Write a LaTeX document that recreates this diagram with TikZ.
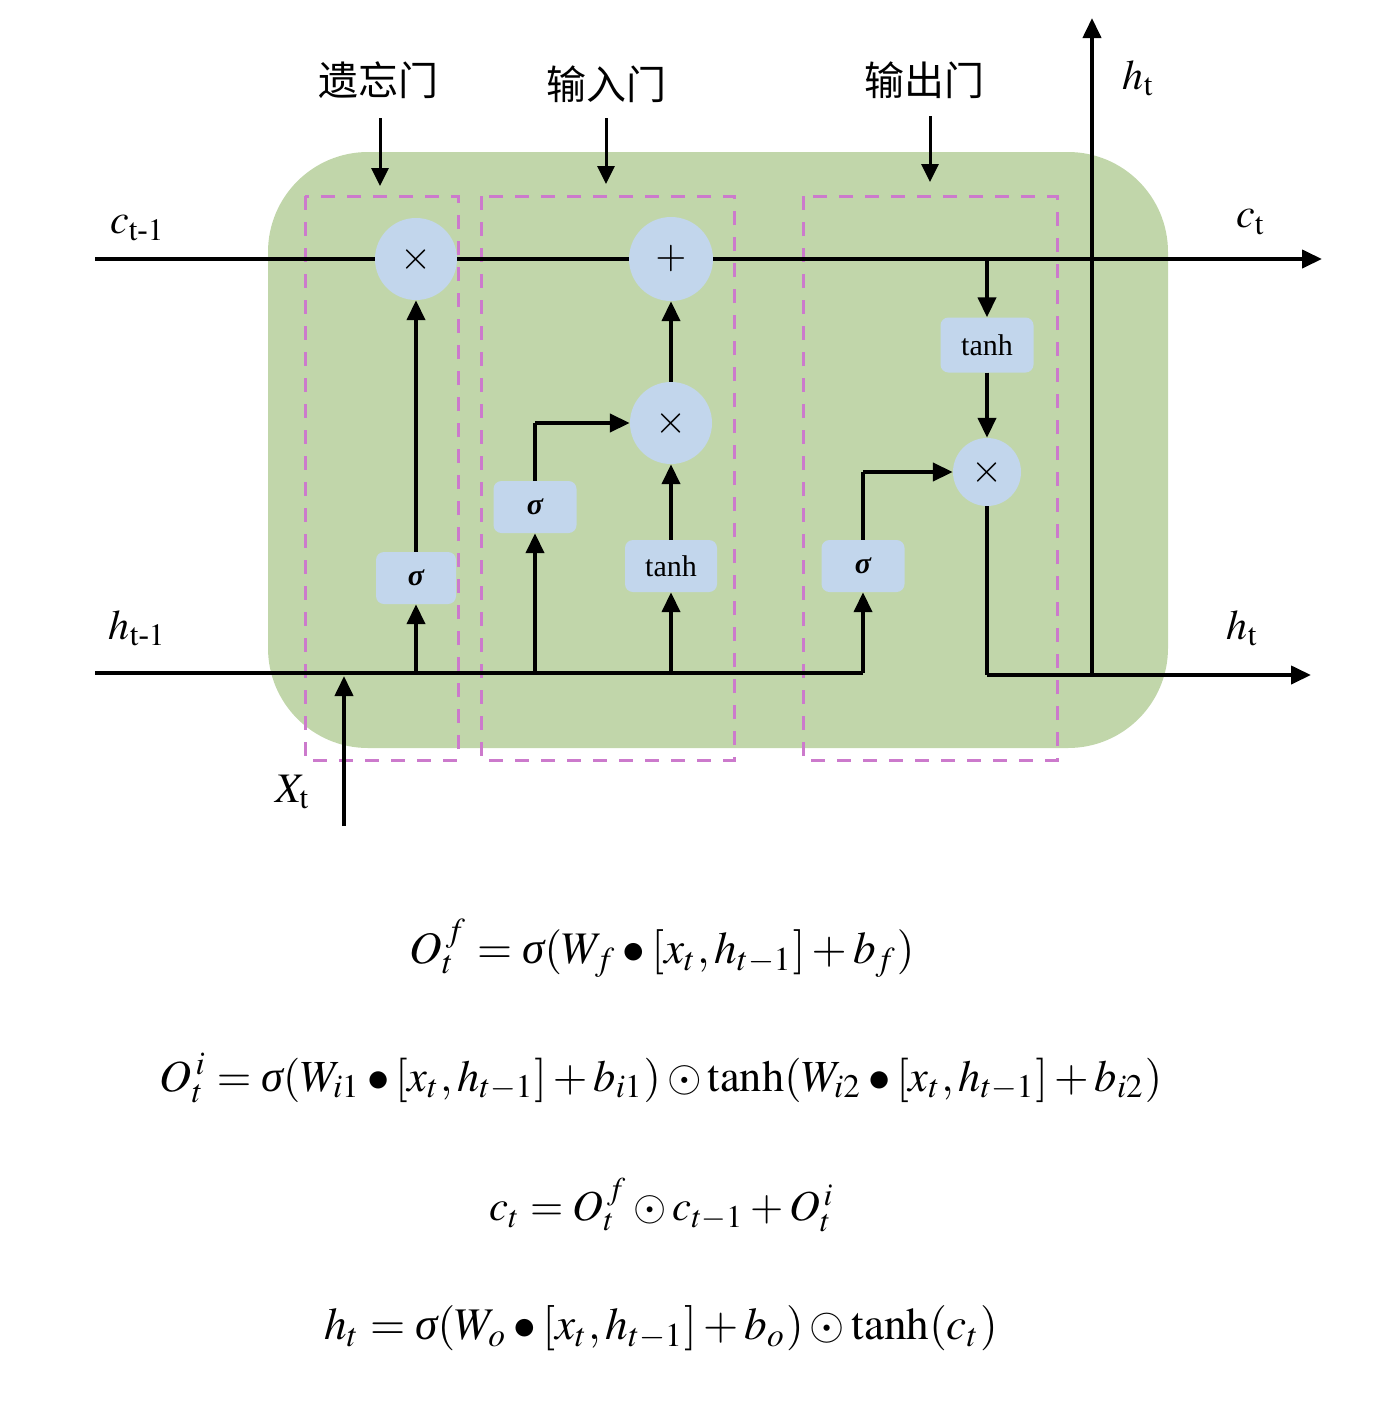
\documentclass[tikz,border=0pt]{standalone}
\usepackage{amsmath}
\usepackage{mathptmx}
\usepackage[no-math]{fontspec}
\setmainfont{Liberation Serif}
\newfontfamily\cjk{Noto Sans CJK SC}
\usepackage{graphicx}
\usetikzlibrary{arrows.meta}
\definecolor{cellgreen}{RGB}{193,214,170}
\definecolor{opblue}{RGB}{194,214,236}
\definecolor{gatepink}{RGB}{204,122,204}
\newcommand{\sg}{\text{\itshape σ}}
\begin{document}
\begin{tikzpicture}[x=1pt,y=-1pt,
  wire/.style={line width=4pt},
  arr/.style={line width=4pt,-{Triangle[length=20pt,width=18pt]}},
  thinarr/.style={line width=3pt,-{Triangle[length=18pt,width=17pt]}},
  oper/.style={circle,fill=opblue,inner sep=0pt,font=\fontsize{40}{40}\selectfont},
  func/.style={rectangle,rounded corners=8pt,fill=opblue,inner sep=0pt,minimum height=52pt,font=\fontsize{30}{30}\selectfont},
  gatebox/.style={draw=gatepink,line width=3pt,dash pattern=on 14pt off 12pt},
  gatelabel/.style={font=\cjk\fontsize{40}{40}\selectfont},
  varlabel/.style={font=\fontsize{42}{42}\selectfont},
  eqn/.style={inner sep=0pt}]
\useasboundingbox (0,0) rectangle (1386,1406);
% cell background
\fill[cellgreen,rounded corners=100pt] (268,152) rectangle (1168,748);
% gate boxes
\draw[gatebox] (305,196) rectangle (458,760);
\draw[gatebox] (481,196) rectangle (734,760);
\draw[gatebox] (803,196) rectangle (1057,760);
% gate labels
\node[gatelabel] (lf) at (378,80) {遗忘门};
\node[gatelabel] (li) at (606,84) {输入门};
\node[gatelabel] (lo) at (924,80) {输出门};
\coordinate (af1) at (380,118); \coordinate (af2) at (380,186);
\coordinate (ai1) at (606,118); \coordinate (ai2) at (606,184);
\coordinate (ao1) at (930,116); \coordinate (ao2) at (930,182);
\draw[thinarr] (af1) -- (af2);
\draw[thinarr] (ai1) -- (ai2);
\draw[thinarr] (ao1) -- (ao2);
% operator nodes
\node[oper,minimum size=82pt] (fx) at (416,259) {$\times$};
\node[oper,minimum size=84pt] (plus) at (671,259) {$+$};
\node[oper,minimum size=82pt] (ix) at (671,423) {$\times$};
\node[oper,minimum size=68pt] (ox) at (987,472) {$\times$};
\node[func,minimum width=80pt] (fsig) at (416,578) {\bfseries\itshape σ};
\node[func,minimum width=83pt] (isig) at (535,507) {\bfseries\itshape σ};
\node[func,minimum width=92pt] (itanh) at (671,566) {tanh};
\node[func,minimum width=83pt] (osig) at (863,566) {\bfseries\itshape σ};
\node[func,minimum width=93pt,minimum height=55pt] (otanh) at (987,345) {tanh};
% coordinates
\coordinate (cin) at (95,259);
\coordinate (cout) at (1322,259);
\coordinate (ctap) at (987,259);
\coordinate (hin) at (95,673);
\coordinate (hturn) at (863,673);
\coordinate (ftap) at (416,673);
\coordinate (itap) at (535,673);
\coordinate (ttap) at (671,673);
\coordinate (xin) at (344,826);
\coordinate (xend) at (344,676);
\coordinate (ibend) at (535,423);
\coordinate (obend) at (863,472);
\coordinate (hcorner) at (987,675);
\coordinate (hout) at (1311,675);
\coordinate (hup0) at (1092,675);
\coordinate (hup1) at (1092,18);
% cell state line
\draw[wire] (cin) -- (fx.west);
\draw[wire] (fx.east) -- (plus.west);
\draw[arr] (plus.east) -- (cout);
\draw[arr] (ctap) -- (otanh.north);
% hidden state line
\draw[wire] (hin) -- (hturn);
\draw[arr] (hturn) -- (osig.south);
\draw[arr] (ftap) -- (fsig.south);
\draw[arr] (itap) -- (isig.south);
\draw[arr] (ttap) -- (itanh.south);
\draw[arr] (xin) -- (xend);
% forget gate
\draw[arr] (fsig.north) -- (fx.south);
% input gate
\draw[wire] (isig.north) -- (ibend);
\draw[arr] (ibend) -- (ix.west);
\draw[arr] (itanh.north) -- (ix.south);
\draw[arr] (ix.north) -- (plus.south);
% output gate
\draw[wire] (osig.north) -- (obend);
\draw[arr] (obend) -- (ox.west);
\draw[arr] (otanh.south) -- (ox.north);
\draw[wire] (ox.south) -- (hcorner);
\draw[arr] (hcorner) -- (hout);
\draw[arr] (hup0) -- (hup1);
% variable labels
\node[varlabel] (lc0) at (137,228) {$c_{\mathrm{t}\text{-}\mathrm{1}}$};
\node[varlabel] (lh0) at (137,628) {$h_{\mathrm{t}\text{-}\mathrm{1}}$};
\node[varlabel] (lc1) at (1250,222) {$c_{\mathrm{t}}$};
\node[varlabel] (lh1) at (1242,628) {$h_{\mathrm{t}}$};
\node[varlabel] (lh2) at (1138,78) {$h_{\mathrm{t}}$};
\node[varlabel] (lx) at (292,792) {$X_{\mathrm{t}}$};
% equations
\node[eqn] (e1) at (662,948) {\resizebox{505pt}{!}{$O_t^{\,f}=\sg(W_f\bullet[x_t,h_{t-1}]+b_f)$}};
\node[eqn] (e2) at (661,1078) {\resizebox{1002pt}{!}{$O_t^{\,i}=\sg(W_{i1}\bullet[x_t,h_{t-1}]+b_{i1})\odot\tanh(W_{i2}\bullet[x_t,h_{t-1}]+b_{i2})$}};
\node[eqn] (e3) at (662,1205) {\resizebox{345pt}{!}{$c_t=O_t^{\,f}\odot c_{t-1}+O_t^{\,i}$}};
\node[eqn] (e4) at (661,1328) {\resizebox{673pt}{!}{$h_t=\sg(W_o\bullet[x_t,h_{t-1}]+b_o)\odot\tanh(c_t)$}};
\end{tikzpicture}
\end{document}
